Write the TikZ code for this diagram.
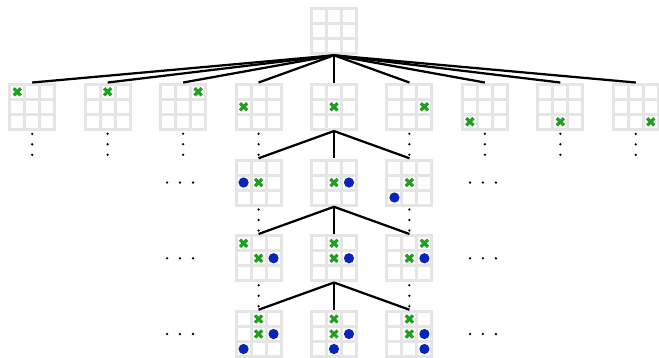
\documentclass[tikz,border=0pt]{standalone}
\usepackage{tikz}
\usetikzlibrary{calc}

\definecolor{boardgray}{RGB}{229,229,229}
\definecolor{xgreen}{RGB}{30,160,30}
\definecolor{oblue}{RGB}{10,35,185}

% one 3x3 board: name, centre, X cells (row/col), O cells (row/col)
\newcommand{\tttboard}[4]{%
  \node[board] (#1) at (#2) {};
  \begin{scope}[shift={(#2)}]
    \foreach \r in {0,1,2}
      \foreach \c in {0,1,2}
        \fill[white] (\c-1.4,1.4-\r) rectangle +(0.8,-0.8);
    \foreach \r/\c in {#3}
      \draw[xmark] (\c-1.24,1.24-\r) -- +(0.48,-0.48)
                   (\c-1.24,0.76-\r) -- +(0.48,0.48);
    \foreach \r/\c in {#4}
      \fill[omark] (\c-1,1-\r) circle (0.34);
  \end{scope}}

\begin{document}
\begin{tikzpicture}[x=0.4cm, y=0.4cm,
  board/.style={fill=boardgray, minimum size=1.28cm, inner sep=0pt},
  edge/.style={line width=1.7pt},
  xmark/.style={draw=xgreen, line width=2.4pt},
  omark/.style={fill=oblue}]
  \useasboundingbox (-22.27,-21.8) rectangle (21.67,2.07);
  % root: empty board
  \tttboard{top}{0,0}{}{}
  % first move, X in each cell
  \foreach \i in {1,...,9} {
    \pgfmathtruncatemacro\row{(\i-1)/3}
    \pgfmathtruncatemacro\col{mod(\i-1,3)}
    \tttboard{l\i}{5.03*\i-25.15,-5.05}{\row/\col}{}
    \draw[edge] (top.south) -- (l\i.north);
  }
  % second level
  \tttboard{a1}{-5.03,-10.1}{1/1}{1/0}
  \tttboard{a2}{0,-10.1}{1/1}{1/2}
  \tttboard{a3}{5.03,-10.1}{1/1}{2/0}
  % third level
  \tttboard{b1}{-5.03,-15.15}{0/0,1/1}{1/2}
  \tttboard{b2}{0,-15.15}{0/1,1/1}{1/2}
  \tttboard{b3}{5.03,-15.15}{0/2,1/1}{1/2}
  % fourth level
  \tttboard{c1}{-5.03,-20.2}{0/1,1/1}{1/2,2/0}
  \tttboard{c2}{0,-20.2}{0/1,1/1}{1/2,2/1}
  \tttboard{c3}{5.03,-20.2}{0/1,1/1}{1/2,2/2}
  \foreach \p/\q in {l5/a, a2/b, b2/c}
    \foreach \k in {1,2,3}
      \draw[edge] (\p.south) -- (\q\k.north);
  % vertical dots
  \foreach \n in {l1,l2,l3,l4,l6,l7,l8,l9,a1,a3,b1,b3}
    \foreach \d in {1.8,2.5,3.2}
      \fill ($(\n)+(0,-\d)$) circle (0.085);
  % horizontal dots
  \foreach \n in {a1,b1,c1}
    \foreach \d in {-6.1,-5.24,-4.37}
      \fill ($(\n)+(\d,0)$) circle (0.085);
  \foreach \n in {a3,b3,c3}
    \foreach \d in {4.04,4.9,5.77}
      \fill ($(\n)+(\d,0)$) circle (0.085);
\end{tikzpicture}
\end{document}
